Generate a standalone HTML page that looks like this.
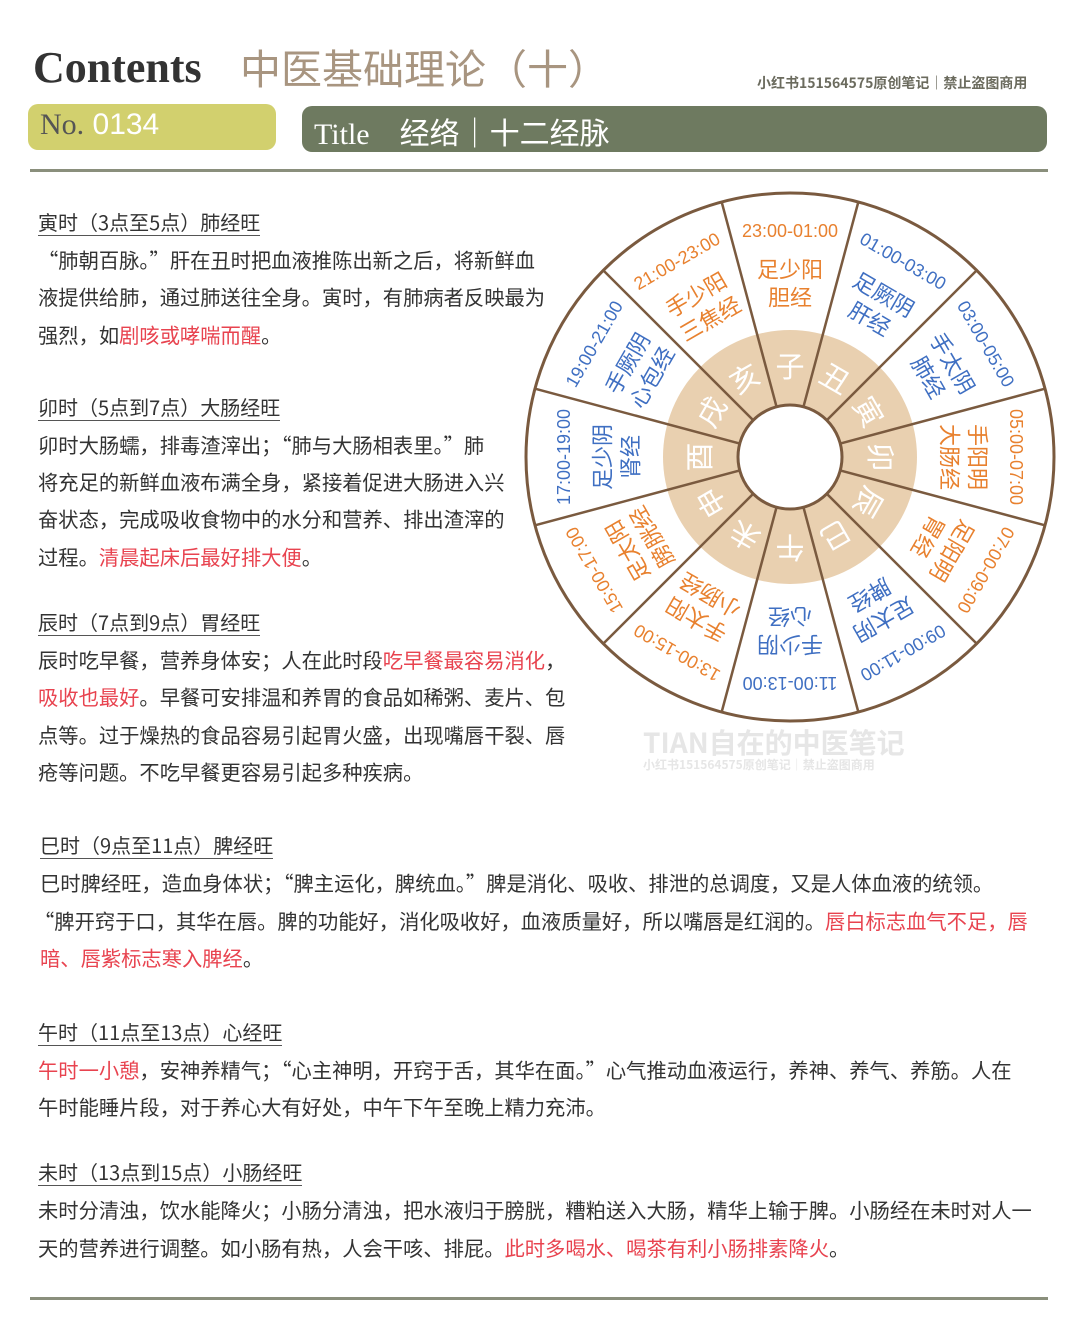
<!DOCTYPE html>
<html><head><meta charset="utf-8">
<style>
body{margin:0;background:#fff;}
#page{position:relative;width:1080px;height:1341px;overflow:hidden;background:#fff;font-family:"Liberation Sans","Noto Sans CJK SC",sans-serif;color:#333;}
.abs{position:absolute;}
.h{position:absolute;left:38px;font-size:20px;color:#333;border-bottom:1.5px solid #555;line-height:26px;white-space:nowrap;font-family:"Noto Sans CJK SC",sans-serif;}
.l{position:absolute;left:38px;font-size:20.3px;line-height:28px;white-space:nowrap;color:#333;font-family:"Noto Sans CJK SC",sans-serif;}
.r{color:#e8434f;}
</style></head><body>
<div id="page">
<div class="abs" style="left:33px;top:42px;font-family:'Liberation Serif',serif;font-weight:bold;font-size:44px;color:#333;">Contents</div>
<div class="abs" style="left:240px;top:36px;font-size:41px;color:#a89580;font-family:'Noto Sans CJK SC',sans-serif;">中医基础理论（十）</div>
<div class="abs" style="left:757px;top:73px;font-size:14px;font-weight:bold;color:#6b6b5e;font-family:'Noto Sans CJK SC',sans-serif;">小红书151564575原创笔记｜禁止盗图商用</div>
<div class="abs" style="left:28px;top:104px;width:248px;height:46px;background:#d2d06e;border-radius:10px;"></div>
<div class="abs" style="left:40px;top:108px;font-size:30px;color:#fff;"><span style="font-family:'Liberation Serif',serif;color:#555">No.</span> 0134</div>
<div class="abs" style="left:302px;top:106px;width:745px;height:46px;background:#6e7a60;border-radius:10px;"></div>
<div class="abs" style="left:314px;top:109px;font-size:30px;color:#fff;font-family:'Liberation Serif','Noto Sans CJK SC',serif;">Title&nbsp;&nbsp;&nbsp; <span style="font-family:'Noto Sans CJK SC',sans-serif">经络｜十二经脉</span></div>
<div class="abs" style="left:30px;top:169px;width:1018px;height:3px;background:#8a8f7c;"></div>

<div class="h" style="top:209px">寅时（3点至5点）肺经旺</div>
<div class="l" style="top:245px">“肺朝百脉。”肝在丑时把血液推陈出新之后，将新鲜血</div>
<div class="l" style="top:282px">液提供给肺，通过肺送往全身。寅时，有肺病者反映最为</div>
<div class="l" style="top:320px">强烈，如<span class="r">剧咳或哮喘而醒</span>。</div>

<div class="h" style="top:394px">卯时（5点到7点）大肠经旺</div>
<div class="l" style="top:430px">卯时大肠蠕，排毒渣滓出；“肺与大肠相表里。”肺</div>
<div class="l" style="top:467px">将充足的新鲜血液布满全身，紧接着促进大肠进入兴</div>
<div class="l" style="top:504px">奋状态，完成吸收食物中的水分和营养、排出渣滓的</div>
<div class="l" style="top:542px">过程。<span class="r">清晨起床后最好排大便</span>。</div>

<div class="h" style="top:609px">辰时（7点到9点）胃经旺</div>
<div class="l" style="top:645px">辰时吃早餐，营养身体安；人在此时段<span class="r">吃早餐最容易消化</span>，</div>
<div class="l" style="top:682px"><span class="r">吸收也最好</span>。早餐可安排温和养胃的食品如稀粥、麦片、包</div>
<div class="l" style="top:720px">点等。过于燥热的食品容易引起胃火盛，出现嘴唇干裂、唇</div>
<div class="l" style="top:757px">疮等问题。不吃早餐更容易引起多种疾病。</div>

<div class="h" style="top:832px;left:40px">巳时（9点至11点）脾经旺</div>
<div class="l" style="top:868px;left:40px">巳时脾经旺，造血身体状；“脾主运化，脾统血。”脾是消化、吸收、排泄的总调度，又是人体血液的统领。</div>
<div class="l" style="top:906px;left:34px">“脾开窍于口，其华在唇。脾的功能好，消化吸收好，血液质量好，所以嘴唇是红润的。<span class="r">唇白标志血气不足，唇</span></div>
<div class="l" style="top:943px;left:40px"><span class="r">暗、唇紫标志寒入脾经</span>。</div>

<div class="h" style="top:1019px">午时（11点至13点）心经旺</div>
<div class="l" style="top:1055px"><span class="r">午时一小憩</span>，安神养精气；“心主神明，开窍于舌，其华在面。”心气推动血液运行，养神、养气、养筋。人在</div>
<div class="l" style="top:1092px">午时能睡片段，对于养心大有好处，中午下午至晚上精力充沛。</div>

<div class="h" style="top:1159px">未时（13点到15点）小肠经旺</div>
<div class="l" style="top:1195px">未时分清浊，饮水能降火；小肠分清浊，把水液归于膀胱，糟粕送入大肠，精华上输于脾。小肠经在未时对人一</div>
<div class="l" style="top:1233px">天的营养进行调整。如小肠有热，人会干咳、排屁。<span class="r">此时多喝水、喝茶有利小肠排素降火</span>。</div>

<div class="abs" style="left:30px;top:1297px;width:1018px;height:3px;background:#8a8f7c;"></div>

<svg id="wheel" class="abs" style="left:0;top:0" width="1080" height="1341"></svg>
<div class="abs" style="left:643px;top:722px;font-size:28px;font-weight:bold;color:#e6e6e6;font-family:'Noto Sans CJK SC',sans-serif;">TIAN自在的中医笔记</div>
<div class="abs" style="left:643px;top:756px;font-size:12px;font-weight:bold;color:#e6e6e6;font-family:'Noto Sans CJK SC',sans-serif;">小红书151564575原创笔记｜禁止盗图商用</div>
</div>
<script>
const branches=["子","丑","寅","卯","辰","巳","午","未","申","酉","戌","亥"];
const times=["23:00-01:00","01:00-03:00","03:00-05:00","05:00-07:00","07:00-09:00","09:00-11:00","11:00-13:00","13:00-15:00","15:00-17:00","17:00-19:00","19:00-21:00","21:00-23:00"];
const line1=["足少阳","足厥阴","手太阴","手阳明","足阳明","足太阴","手少阴","手太阳","足太阳","足少阴","手厥阴","手少阳"];
const line2=["胆经","肝经","肺经","大肠经","胃经","脾经","心经","小肠经","膀胱经","肾经","心包经","三焦经"];
const colorGroup=["o","b","b","o","o","b","b","o","o","b","b","o"];
const NS="http://www.w3.org/2000/svg";
const svg=document.getElementById('wheel');
const cx=790,cy=457,R=264,RT=127,RI=52;
const col={o:"#e8812f",b:"#3f6fc2"};
function mk(t,a,p){const e=document.createElementNS(NS,t);for(const k in a)e.setAttribute(k,a[k]);(p||svg).appendChild(e);return e;}
const outer=mk('circle',{cx:cx,cy:cy,r:R,fill:'#fff',stroke:'#7a5a3f','stroke-width':3});


const tan=mk('circle',{cx:cx,cy:cy,r:RT,fill:'#e9d0b0'});


const n=branches.length;
for(let i=0;i<n;i++){
  const a=(i*360/n+180/n)*Math.PI/180;
  const sp=mk('line',{x1:cx+RI*Math.sin(a),y1:cy-RI*Math.cos(a),x2:cx+R*Math.sin(a),y2:cy-R*Math.cos(a),stroke:'#7a5a3f','stroke-width':2.5});
  
  
}
const inner=mk('circle',{cx:cx,cy:cy,r:RI,fill:'#fff',stroke:'#7a5a3f','stroke-width':3});


for(let i=0;i<n;i++){
  const g=mk('g',{transform:`rotate(${i*360/n} ${cx} ${cy})`});
  
  
  const c=col[colorGroup[i]];
  const f='font-family:"Liberation Sans","Noto Sans CJK SC",sans-serif';
  const t1=mk('text',{x:cx,y:cy-226,'text-anchor':'middle','dominant-baseline':'central','font-size':18,fill:c,style:f},g);t1.textContent=times[i];
  
  
  const t2=mk('text',{x:cx,y:cy-187,'text-anchor':'middle','dominant-baseline':'central','font-size':22,fill:c,style:f},g);t2.textContent=line1[i];
  
  
  const t3=mk('text',{x:cx,y:cy-159,'text-anchor':'middle','dominant-baseline':'central','font-size':22,fill:c,style:f},g);t3.textContent=line2[i];
  
  
  const t4=mk('text',{x:cx,y:cy-89,'text-anchor':'middle','dominant-baseline':'central','font-size':29,fill:'#fff',style:f},g);t4.textContent=branches[i];
  
  
}
</script>
</body></html>
